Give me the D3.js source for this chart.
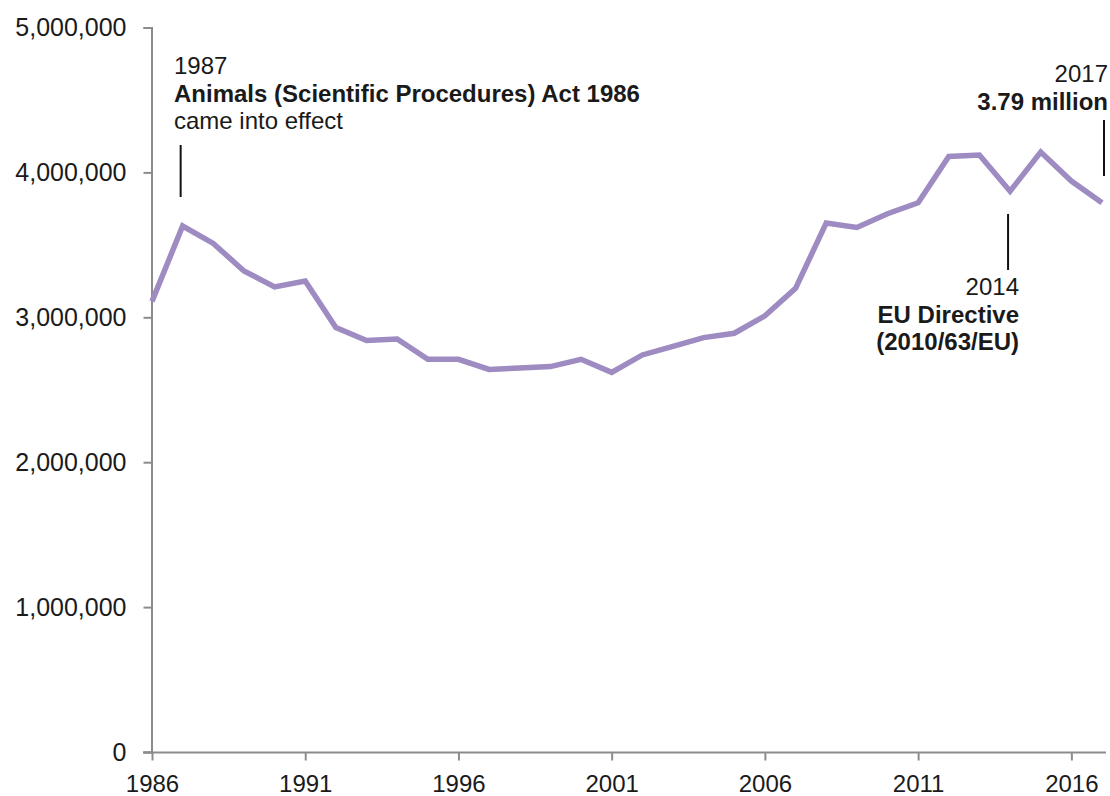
<!DOCTYPE html>
<html>
<head>
<meta charset="utf-8">
<script src="https://cdn.jsdelivr.net/npm/d3@7"></script>
<style>
  html, body { margin: 0; padding: 0; background: #fff; }
  svg { display: block; font-family: "Liberation Sans", Arial, sans-serif; }
</style>
</head>
<body>
<svg id="chart" width="1110" height="796"></svg>
<script>
const years = [1986,1987,1988,1989,1990,1991,1992,1993,1994,1995,1996,1997,1998,1999,2000,2001,
               2002,2003,2004,2005,2006,2007,2008,2009,2010,2011,2012,2013,2014,2015,2016,2017];
const procedures = [3110000,3630000,3510000,3320000,3210000,3250000,2930000,2840000,2850000,2710000,
                    2710000,2640000,2650000,2660000,2710000,2620000,2740000,2800000,2860000,2890000,
                    3010000,3200000,3650000,3620000,3715000,3790000,4110000,4120000,3870000,4140000,
                    3940000,3790000];
const xTickYears = [1986,1991,1996,2001,2006,2011,2016];
const yTickValues = [0,1000000,2000000,3000000,4000000,5000000];

const annLeftYear = 1987;
const annLeftLines = ["1987", "Animals (Scientific Procedures) Act 1986", "came into effect"];
const annMidYear = 2014;
const annMidLines = ["2014", "EU Directive", "(2010/63/EU)"];
const annRightYear = 2017;
const annRightLines = ["2017", "3.79 million"];

const svg = d3.select("#chart");
const x = d3.scaleLinear().domain([1986, 2017]).range([152, 1102]);
const y = d3.scaleLinear().domain([0, 5000000]).range([752, 27.5]);

const axisColor = "#8c8c8c";
const textColor = "#1a1a1a";
const fontSize = 24;

// Y axis
const yAxis = svg.append("g").attr("transform", "translate(151.5,0)")
  .call(d3.axisLeft(y).tickValues(yTickValues).tickSize(8).tickSizeOuter(8).tickPadding(17)
        .tickFormat(d3.format(",")));
yAxis.selectAll("path, line").attr("stroke", axisColor).attr("stroke-width", 2);
yAxis.selectAll("text").attr("fill", textColor).attr("font-size", 25)
  .attr("font-family", "'Liberation Sans', Arial, sans-serif");

// X axis
const xAxis = svg.append("g").attr("transform", "translate(0,752.5)")
  .call(d3.axisBottom(x).tickValues(xTickYears).tickSize(8).tickSizeOuter(0).tickPadding(14)
        .tickFormat(d3.format("d")));
xAxis.select(".domain").attr("d", "M143,0H1106");
xAxis.selectAll("path, line").attr("stroke", axisColor).attr("stroke-width", 2);
xAxis.selectAll("text").attr("fill", textColor).attr("font-size", fontSize)
  .attr("font-family", "'Liberation Sans', Arial, sans-serif");

// Line
const line = d3.line().x((d, i) => x(years[i])).y(d => y(d));
svg.append("path").datum(procedures)
  .attr("d", line)
  .attr("fill", "none")
  .attr("stroke", "#9d8bc2")
  .attr("stroke-width", 5.5)
  .attr("stroke-linejoin", "miter");

// Annotations
function annText(lines, ax, baseline, anchor, boldIdx) {
  const t = svg.append("text").attr("text-anchor", anchor).attr("fill", textColor)
    .attr("font-size", fontSize);
  lines.forEach((s, i) => {
    t.append("tspan").attr("x", ax).attr("y", baseline + i * 27.5)
      .attr("font-weight", boldIdx.includes(i) ? "bold" : "normal")
      .text(s);
  });
}
function annLine(xv, y1, y2) {
  svg.append("line").attr("x1", xv).attr("x2", xv).attr("y1", y1).attr("y2", y2)
    .attr("stroke", "#111").attr("stroke-width", 2);
}

annText(annLeftLines, 174, 74, "start", [1]);
annLine(x(annLeftYear) - 2, 145, 197);

annText(annMidLines, 1019, 295, "end", [1, 2]);
annLine(x(annMidYear) - 2, 214, 270);

annText(annRightLines, 1108, 82, "end", [1]);
annLine(x(annRightYear) + 2, 120, 176);
</script>
</body>
</html>
